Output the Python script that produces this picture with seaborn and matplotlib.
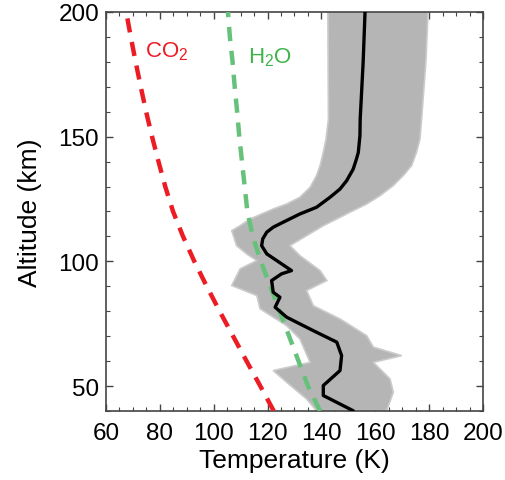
import matplotlib
matplotlib.use("Agg")
import matplotlib.pyplot as plt
import matplotlib.ticker as ticker
import seaborn as sns
import pandas as pd

# condensation curves (altitude km, temperature K)
cond_alt = [40, 50, 60, 70, 80, 90, 100, 110, 120, 130, 140, 150, 160, 170, 180, 190, 200]
co2_T = [122.3, 117.3, 112.2, 107.2, 102.2, 97.4, 92.8, 88.6, 84.9, 82, 79.5, 77.1, 74.9, 72.9, 71, 69.2, 67.5]
h2o_T = [139.5, 135, 131.5, 128, 124.5, 121, 117.5, 114.5, 112.5, 111.5, 110.5, 109.5, 108.7, 107.8, 107, 106, 105.3]

# mean retrieved profile
mean_alt = [40.1, 46.2, 50.2, 56.2, 62.2, 67.6, 72.2, 77.6, 81.6, 85.6, 87.6, 92.3, 95, 96.3, 99,
            103, 106.3, 109, 111.7, 113.7, 115.7, 119, 121.7, 125.7, 129, 132.4, 137, 141, 143.7,
            150.4, 157, 180, 200]
mean_T = [151.8, 140.7, 140.7, 146.9, 147.5, 145.7, 137, 127.1, 122.8, 124.6, 122.1, 121.5, 125.2, 128.9, 125.2,
          119.7, 117.8, 118.2, 119.7, 122.1, 125.8, 132, 138.2, 143.2, 146.9, 149.4, 151.8, 153, 153.7,
          154.3, 154.4, 155.5, 156.2]

# envelope of the ensemble of profiles
left_alt = [40.1, 44.8, 51.5, 56.2, 59.5, 68.9, 74.2, 81, 86.3, 90.3, 97, 100.3, 103, 106.3, 112.3,
            114.3, 117, 121, 123, 125.7, 129.7, 134.4, 138.4, 143.7, 149, 157, 200]
left_T = [138.2, 134.5, 127.1, 122.1, 135.8, 132, 127.1, 117.2, 116, 106.7, 109.8, 116, 112.2, 108.5, 106.7,
          109.8, 113.5, 122.1, 127.1, 132, 135.8, 138.2, 139.5, 140.7, 141.7, 142.6, 142.4]
right_alt = [40.1, 47.5, 52.8, 59.5, 62.2, 65.6, 70.2, 76.9, 82.2, 88.3, 92.3, 96.3, 102.3, 106.3, 110.3,
             114.3, 117, 119.7, 123, 126.3, 130.4, 134.4, 138.4, 143.7, 149, 157, 180, 200]
right_T = [164.2, 166.7, 165.5, 159.3, 169.8, 159.3, 156.8, 146.9, 137, 134.5, 142, 139.5, 132, 128.3, 134.5,
           140.7, 145.7, 150.6, 156.8, 161.7, 166.7, 170.4, 173.5, 175.3, 176.6, 177.2, 178.8, 179.6]

sns.set_theme(style="white")
plt.rcParams['font.family'] = ['Liberation Sans', 'DejaVu Sans']
plt.rcParams['mathtext.default'] = 'regular'

fig = plt.figure(figsize=(5.06, 4.81), dpi=100)
ax = fig.add_axes([0.2095, 0.1435, 0.745, 0.8295])

# grey ensemble band
poly_T = left_T + right_T[::-1]
poly_alt = left_alt + right_alt[::-1]
ax.fill(poly_T, poly_alt, facecolor="#b5b5b5", edgecolor="#cbcbcb", linewidth=1.2, zorder=1)

dfc = pd.DataFrame({"alt": cond_alt, "co2": co2_T, "h2o": h2o_T})
dfm = pd.DataFrame({"alt": mean_alt, "T": mean_T})

sns.lineplot(data=dfc, x="co2", y="alt", orient="y", color="#ec1c24", linewidth=3.2, ax=ax, zorder=3)
ax.lines[-1].set_dashes([3.2, 2.2])
sns.lineplot(data=dfc, x="h2o", y="alt", orient="y", color="#66c17a", linewidth=3.2, ax=ax, zorder=3)
ax.lines[-1].set_dashes([3.2, 2.2])
sns.lineplot(data=dfm, x="T", y="alt", orient="y", color="black", linewidth=2.4, ax=ax, zorder=4)

ax.text(74.5, 184.4, "CO$_2$", color="#ec1c24", fontsize=16, va="center", ha="left")
ax.text(112.7, 182, "H$_2$O", color="#3db34a", fontsize=16, va="center", ha="left")

ax.set_xlim(60, 200)
ax.set_ylim(40, 200)
ax.xaxis.set_major_locator(ticker.MultipleLocator(20))
ax.xaxis.set_minor_locator(ticker.MultipleLocator(5))
ax.yaxis.set_major_locator(ticker.FixedLocator([50, 100, 150, 200]))
ax.yaxis.set_minor_locator(ticker.MultipleLocator(10))
ax.tick_params(which="both", direction="in", top=True, right=True, bottom=True, left=True,
               colors="#444444", labelcolor="black", labelsize=17.5)
ax.tick_params(which="major", length=5, width=1)
ax.tick_params(which="minor", length=3, width=0.8)
ax.tick_params(axis="x", which="major", pad=8)
ax.tick_params(axis="y", which="major", pad=5)
for s in ax.spines.values():
    s.set_color("#444444")
    s.set_linewidth(1.2)

ax.set_xlabel("Temperature (K)", fontsize=19, color="black", labelpad=3)
ax.set_ylabel("Altitude (km)", fontsize=19, color="black", labelpad=12)

fig.savefig("out.png", dpi=100)
